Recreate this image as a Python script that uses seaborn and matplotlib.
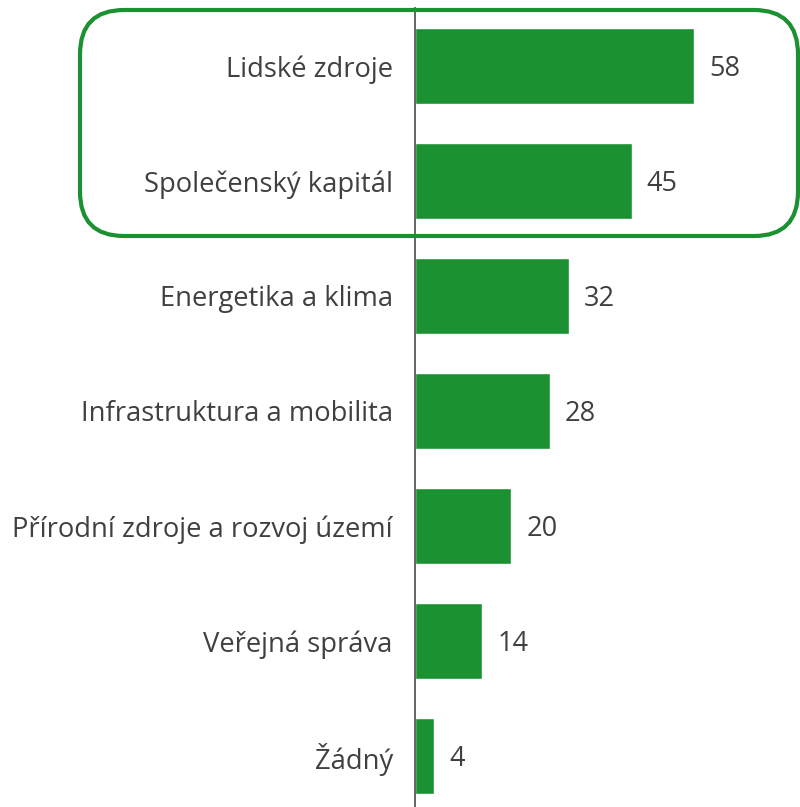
import matplotlib.pyplot as plt
import pandas as pd
import seaborn as sns
from matplotlib.patches import FancyBboxPatch

categories = [
    "Lidské zdroje",
    "Společenský kapitál",
    "Energetika a klima",
    "Infrastruktura a mobilita",
    "Přírodní zdroje a rozvoj území",
    "Veřejná správa",
    "Žádný",
]
counts = [58, 45, 32, 28, 20, 14, 4]

BAR_COLOR = "#1b9131"
TEXT_COLOR = "#404040"

sns.set_style("white")
plt.rcParams["font.family"] = ["Open Sans", "DejaVu Sans"]

df = pd.DataFrame({"category": categories, "count": counts})

fig = plt.figure(figsize=(8, 8.07), dpi=100)
ax = fig.add_axes([0.51875, -0.008, 0.48125, 0.9975])

sns.barplot(data=df, y="category", x="count", color=BAR_COLOR,
            saturation=1, width=0.66, orient="h", ax=ax)

ax.set_xlim(0, 80)
ax.set_ylim(6.5, -0.5)
ax.set_xlabel("")
ax.set_ylabel("")
ax.set_xticks([])
ax.tick_params(axis="y", length=0, pad=16, labelsize=19.7, labelcolor=TEXT_COLOR)

for side in ["top", "right", "bottom"]:
    ax.spines[side].set_visible(False)
ax.spines["left"].set_color("#595959")
ax.spines["left"].set_linewidth(1.3)

labels = ax.bar_label(ax.containers[0], labels=[str(c) for c in counts],
                      padding=11, fontsize=19.5, color=TEXT_COLOR)
for t in labels:
    t.set_va("center")
    t.set_y(-2)

# highlight box around the top two categories
box = FancyBboxPatch((80 / 800, (807 - 236) / 807), 718 / 800, 226 / 807,
                     boxstyle="round,pad=0,rounding_size=0.055",
                     transform=fig.transFigure, fill=False,
                     edgecolor=BAR_COLOR, linewidth=3, clip_on=False)
fig.patches.append(box)

fig.savefig("out.png", dpi=100)
